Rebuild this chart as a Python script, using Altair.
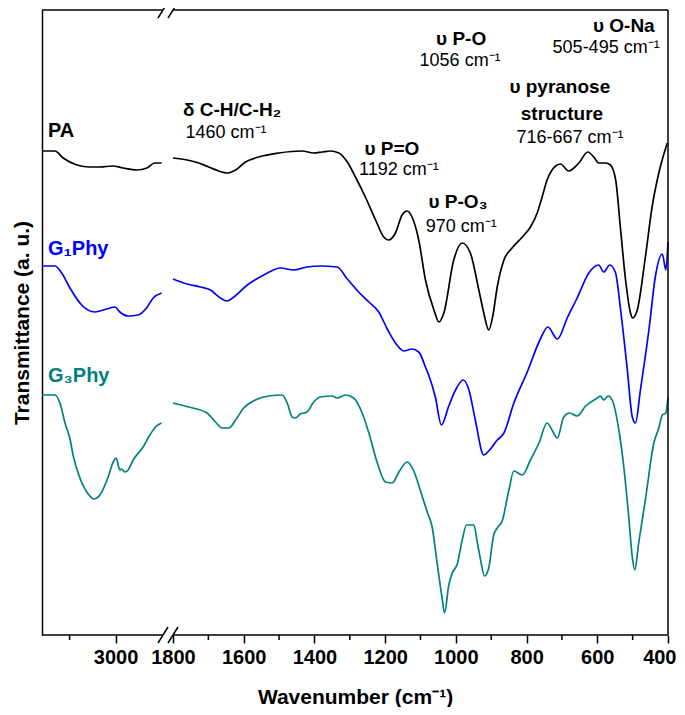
import altair as alt
import pandas as pd

# ---------------- data ----------------
samples = ["PA", "G1Phy", "G3Phy"]
sample_labels = ["PA", "G₁Phy", "G₃Phy"]
colors = ["#000000", "#0000ff", "#008080"]

# high-wavenumber segment (3800 - 2500 cm-1)
pa_hi_wn = [3800, 3660, 3570, 3420, 3280, 3170, 3030, 2920, 2770, 2660, 2575, 2500]
pa_hi_t = [484, 484, 477, 470, 468, 468, 469, 467, 465, 467, 472, 472]

g1_hi_wn = [3800, 3660, 3586, 3496, 3369, 3225, 3098, 3008, 2954, 2864, 2755, 2664, 2592, 2500]
g1_hi_t = [369, 369, 362, 347, 330, 323, 326, 328, 323, 319, 320, 327, 337, 342]

g3_hi_wn = [3800, 3660, 3605, 3550, 3496, 3460, 3388, 3298, 3236, 3171, 3081, 3026, 2994,
            2954, 2935, 2899, 2864, 2809, 2701, 2628, 2556, 2500]
g3_hi_t = [240, 240, 232, 212, 196, 179, 157, 141, 136, 140, 158, 173, 177,
           165, 166, 163, 165, 175, 188, 200, 209, 212]

# fingerprint segment (1800 - 400 cm-1)
pa_lo_wn = [1800, 1760, 1727, 1699, 1671, 1647, 1623, 1595, 1558, 1501, 1435, 1402, 1378, 1355,
            1331, 1307, 1284, 1256, 1227, 1204, 1190, 1171, 1152, 1138, 1124, 1105, 1086, 1062,
            1048, 1034, 1006, 982, 959, 935, 921, 907, 895, 883, 864, 841, 812, 789, 770, 756,
            742, 728, 704, 681, 652, 627, 610, 596, 577, 563, 548, 534, 520, 506, 500, 487,
            464, 445, 426, 402]
pa_lo_t = [477, 475, 472, 468, 464, 462, 465, 473, 478, 482, 484, 482, 483, 484,
           482, 473, 458, 438, 415, 398, 395, 402, 420, 424, 418, 395, 355, 325,
           313, 322, 375, 392, 382, 345, 322, 305, 320, 348, 375, 387, 398, 408, 422, 438,
           455, 465, 471, 464, 472, 483, 478, 472, 472, 470, 455, 405, 355, 322, 317, 325,
           378, 428, 462, 492]

g1_lo_wn = [1800, 1760, 1722, 1694, 1666, 1647, 1628, 1590, 1543, 1496, 1459, 1421, 1383, 1336,
            1307, 1275, 1246, 1218, 1194, 1171, 1147, 1124, 1105, 1086, 1077, 1058, 1041, 1020,
            1001, 979, 963, 945, 921, 907, 883, 864, 836, 798, 761, 740, 713, 685, 657, 624,
            596, 582, 565, 549, 534, 515, 501, 492, 478, 454, 435, 416, 406, 400]
g1_lo_t = [356, 351, 348, 345, 337, 334, 338, 350, 360, 367, 365, 368, 369, 368,
           356, 343, 333, 323, 306, 292, 284, 286, 283, 268, 260, 238, 210, 229,
           245, 255, 245, 215, 180, 184, 195, 202, 232, 263, 296, 308, 296, 317, 337, 362,
           370, 363, 370, 363, 325, 265, 218, 212, 245, 305, 360, 381, 365, 393]

g3_lo_wn = [1800, 1756, 1704, 1680, 1661, 1642, 1623, 1600, 1567, 1529, 1491, 1477, 1463, 1454,
            1440, 1421, 1402, 1383, 1350, 1336, 1312, 1289, 1265, 1246, 1223, 1199, 1180, 1161,
            1138, 1119, 1100, 1081, 1067, 1053, 1039, 1032, 1020, 1010, 996, 982, 970, 949,
            940, 930, 919, 907, 893, 883, 869, 850, 836, 812, 789, 765, 742, 728, 713, 695,
            679, 657, 633, 600, 591, 582, 569, 558, 539, 525, 511, 501, 494, 483, 464, 440,
            426, 416, 406, 400]
g3_lo_t = [232, 228, 222, 213, 207, 207, 215, 227, 235, 239, 240, 232, 218, 217,
           221, 223, 233, 238, 239, 237, 240, 237, 222, 202, 173, 153, 152, 163,
           173, 164, 144, 123, 108, 72, 37, 22, 50, 62, 71, 95, 110, 110,
           94, 75, 59, 67, 100, 107, 114, 145, 164, 160, 175, 192, 212, 205, 197, 218,
           222, 219, 229, 237, 239, 235, 239, 235, 205, 168, 118, 78, 65, 92, 135, 192,
           207, 220, 222, 238]

# axis ticks
major_ticks = [3000, 1800, 1600, 1400, 1200, 1000, 800, 600, 400]
minor_ticks = [3500, 1700, 1500, 1300, 1100, 900, 700, 500]

# annotations (band assignments), anchored at text baseline
ann_bold_text = ["δ C-H/C-H₂", "υ P=O", "υ P-O", "υ P-O₃", "υ pyranose", "structure", "υ O-Na"]
ann_bold_wn = [1633, 1181, 985, 994, 706, 700, 525]
ann_bold_t = [519, 480, 590, 427, 542, 515, 603]
ann_reg_text = ["1460 cm⁻¹", "1192 cm⁻¹", "1056 cm⁻¹", "970 cm⁻¹", "716-667 cm⁻¹", "505-495 cm⁻¹"]
ann_reg_wn = [1650, 1161, 988, 985, 677, 575]
ann_reg_t = [497, 460, 569, 403, 492, 582]

label_wn = [3735, 3735, 3735]
label_t = [498, 380, 253]

# ---------------- broken wavenumber axis ----------------
# segment 3800-2485 cm-1 occupies 0..121, segment 1800-400 cm-1 occupies 131..626
HI_START, HI_END, HI_W = 3800, 2485, 121
LO_START, LO_END, LO_X0, LO_W = 1800, 400, 131, 495
W, H = LO_X0 + LO_W, 625

BRK = (f"datum.wn > 2000 ? ({HI_START} - datum.wn) * {HI_W} / {HI_START - HI_END}"
       f" : {LO_X0} + ({LO_START} - datum.wn) * {LO_W} / {LO_START - LO_END}")


def brk(v):
    if v > 2000:
        return (HI_START - v) * HI_W / (HI_START - HI_END)
    return LO_X0 + (LO_START - v) * LO_W / (LO_START - LO_END)


LABEL_EXPR = (f"datum.value < {(HI_W + LO_X0) / 2} ? "
              f"format(round({HI_START} - datum.value * {HI_START - HI_END} / {HI_W}), 'd') : "
              f"format(round({LO_START} - (datum.value - {LO_X0}) * {LO_START - LO_END} / {LO_W}), 'd')")
LAST = f"datum.value > {W - 1}"

# ---------------- tables ----------------
def series(wn, t, name, seg):
    return pd.DataFrame({"wn": wn, "t": t, "sample": name, "seg": seg})

spec_df = pd.concat([
    series(pa_hi_wn, pa_hi_t, "PA", "hi"), series(pa_lo_wn, pa_lo_t, "PA", "lo"),
    series(g1_hi_wn, g1_hi_t, "G1Phy", "hi"), series(g1_lo_wn, g1_lo_t, "G1Phy", "lo"),
    series(g3_hi_wn, g3_hi_t, "G3Phy", "hi"), series(g3_lo_wn, g3_lo_t, "G3Phy", "lo"),
])
lab_df = pd.DataFrame({"wn": label_wn, "t": label_t, "sample": samples, "txt": sample_labels})
bold_df = pd.DataFrame({"wn": ann_bold_wn, "t": ann_bold_t, "txt": ann_bold_text})
reg_df = pd.DataFrame({"wn": ann_reg_wn, "t": ann_reg_t, "txt": ann_reg_text})
minor_df = pd.DataFrame({"wn": minor_ticks})

# ---------------- styling ----------------
FONT = "Liberation Sans"
one = alt.Data(values=[{"a": 1}])

color = alt.Color("sample:N", scale=alt.Scale(domain=samples, range=colors), legend=None)
x_scale = alt.Scale(domain=[0, W], nice=False, zero=False)
y_scale = alt.Scale(domain=[0, H], nice=False, zero=False)

x_enc = alt.X("pos:Q", scale=x_scale,
              axis=alt.Axis(values=[brk(v) for v in major_ticks], labelExpr=LABEL_EXPR,
                            domain=False, grid=False, tickColor="black", tickWidth=1.5,
                            tickSize=8, labelFont=FONT, labelFontSize=20, labelFontWeight="bold",
                            labelColor="black", labelPadding=4, labelFlush=False,
                            labelAlign={"condition": {"test": LAST, "value": "right"},
                                        "value": "center"},
                            labelOffset={"condition": {"test": LAST, "value": 8}, "value": 0},
                            title="Wavenumber (cm⁻¹)", titleFont=FONT, titleFontSize=21,
                            titleFontWeight="bold", titleColor="black", titleY=68,
                            titleBaseline="alphabetic"))
y_enc = alt.Y("t:Q", scale=y_scale,
              axis=alt.Axis(title="Transmittance (a. u.)", labels=False, ticks=False, grid=False,
                            domainColor="black", domainWidth=1.5, titleFont=FONT,
                            titleFontSize=21, titleFontWeight="bold", titleColor="black",
                            titlePadding=10))


def rule(x1, x2, y1, y2):
    return alt.Chart(one).mark_rule(color="black", strokeWidth=1.5).encode(
        x=alt.value(x1), x2=alt.value(x2), y=alt.value(y1), y2=alt.value(y2))


lines = alt.Chart(spec_df).transform_calculate(pos=BRK).mark_line(
    strokeWidth=1.7, interpolate="monotone").encode(
    x=x_enc, y=y_enc, color=color, detail="seg:N")

minor = alt.Chart(minor_df).transform_calculate(pos=BRK).mark_rule(
    color="black", strokeWidth=1.5).encode(x=x_enc, y=alt.value(H), y2=alt.value(H + 5))

labels = alt.Chart(lab_df).transform_calculate(pos=BRK).mark_text(
    font=FONT, fontSize=20, fontWeight="bold", align="left", baseline="alphabetic").encode(
    x=x_enc, y=y_enc, text="txt:N", color=color)

bold_ann = alt.Chart(bold_df).transform_calculate(pos=BRK).mark_text(
    font=FONT, fontSize=19, fontWeight="bold", align="center", baseline="alphabetic",
    color="black").encode(x=x_enc, y=y_enc, text="txt:N")

reg_ann = alt.Chart(reg_df).transform_calculate(pos=BRK).mark_text(
    font=FONT, fontSize=18, align="center", baseline="alphabetic",
    color="black").encode(x=x_enc, y=y_enc, text="txt:N")

frame = [
    rule(0, HI_W, 0, 0), rule(LO_X0, W, 0, 0),          # top border with gap
    rule(0, HI_W, H, H), rule(LO_X0, W, H, H),          # bottom axis line with gap
    rule(W, W, 0, H),                                   # right border
    # "//" break marks, top and bottom
    rule(HI_W - 5, HI_W + 5, 8, -8), rule(LO_X0 - 5, LO_X0 + 5, 8, -8),
    rule(HI_W - 5, HI_W + 5, H + 8, H - 8), rule(LO_X0 - 5, LO_X0 + 5, H + 8, H - 8),
]

chart = alt.layer(lines, minor, labels, bold_ann, reg_ann, *frame).properties(
    width=W, height=H,
    autosize=alt.AutoSizeParams(type="none"),
    padding={"left": 34, "top": 2, "right": 9, "bottom": 72},
    background="white",
).configure_view(stroke=None)

chart.save("out.html", embed_options={"renderer": "svg", "actions": False})
